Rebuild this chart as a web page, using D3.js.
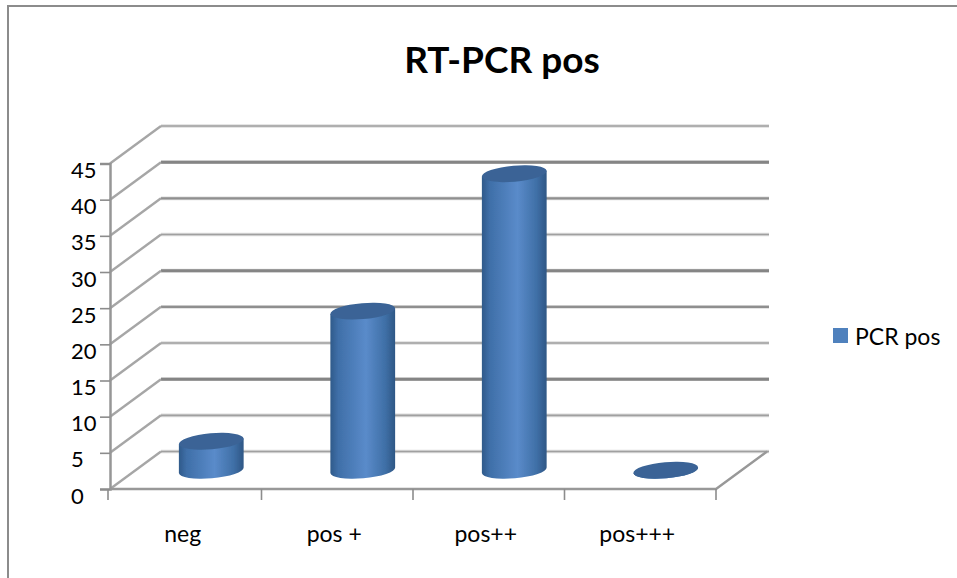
<!DOCTYPE html>
<html>
<head>
<meta charset="utf-8">
<script src="https://cdn.jsdelivr.net/npm/d3@7"></script>
<style>
  body { margin: 0; background: #fff; }
  svg { display: block; }
  text { font-family: Lato, "Open Sans", sans-serif; fill: #000; }
</style>
</head>
<body>
<svg width="957" height="578"></svg>
<script>
const categories = ["neg", "pos +", "pos++", "pos+++"];
const values = [4, 22, 41, 0];
const yTicks = [0, 5, 10, 15, 20, 25, 30, 35, 40, 45];
const seriesName = "PCR pos";
const chartTitle = "RT-PCR pos";

const svg = d3.select("svg");

// the floor/wall offset of the fake 3d box
const depthX = 51, depthY = -37.5;

const x = d3.scaleBand().domain(categories).range([110, 716]);
const y = d3.scaleLinear().domain([0, 45]).range([489, 163.5]);

const defs = svg.append("defs");
defs.append("filter").attr("id", "soft")
  .append("feGaussianBlur").attr("stdDeviation", 0.45);

// chart frame, right and bottom run off the picture
svg.append("path")
    .attr("d", "M8,578V6H957")
    .attr("fill", "none")
    .attr("stroke", "#8c8c8c")
    .attr("stroke-width", 2);

svg.append("text")
    .attr("x", 502)
    .attr("y", 73)
    .attr("text-anchor", "middle")
    .style("font-size", "37px")
    .style("font-weight", "bold")
    .text(chartTitle);

// the wall lines come out uneven in the picture, every third one is heavy
const gridLook = d => {
  const i = d / 5;
  if (i % 3 === 2) return {core: "#858585", w: 3};
  if (i % 3 === 1 && i > 1) return {core: "#8f8f8f", w: 2.2};
  return {core: "#a0a0a0", w: 1.6};
};

const grid = svg.append("g").attr("fill", "none").attr("filter", "url(#soft)");

// back wall lines
const wallPath = d => `M${110 + depthX},${y(d) + depthY}H${718 + depthX}`;
grid.selectAll(".halo")
  .data(yTicks)
  .enter().append("path")
    .attr("class", "halo")
    .attr("d", wallPath)
    .attr("stroke", "#dcdcdc")
    .attr("stroke-width", 3.6);
grid.selectAll(".core")
  .data(yTicks)
  .enter().append("path")
    .attr("class", "core")
    .attr("d", wallPath)
    .attr("stroke", d => gridLook(d).core)
    .attr("stroke-width", d => gridLook(d).w);

// side wall diagonals
grid.selectAll(".diag")
  .data(yTicks)
  .enter().append("line")
    .attr("class", "diag")
    .attr("x1", 110)
    .attr("y1", d => y(d))
    .attr("x2", 110 + depthX)
    .attr("y2", d => y(d) + depthY)
    .attr("stroke", "#a6a6a6")
    .attr("stroke-width", 2.4);

// floor front edge and right edge
grid.append("path")
    .attr("d", `M110,${y(0)}H716L${716 + depthX},${y(0) + depthY}`)
    .attr("stroke", "#989898")
    .attr("stroke-width", 2.4);

// axes
const yAxis = svg.append("g")
    .attr("transform", "translate(110,0)")
    .call(d3.axisLeft(y).tickValues(yTicks).tickSize(10).tickPadding(5));
yAxis.select(".domain").attr("stroke", "#969696").attr("stroke-width", 2.5);
yAxis.selectAll(".tick line").attr("stroke", "#8c8c8c").attr("stroke-width", 1.6);
// labels are flush left in the reference, not against the axis
yAxis.selectAll("text")
    .attr("text-anchor", "start")
    .attr("x", -39)
    .attr("y", -8)
    .attr("dy", "1.0em")
    .style("font-size", "22px")
    .attr("fill", "#000");

const xAxis = svg.append("g")
    .attr("transform", "translate(0,489)")
    .call(d3.axisBottom(x).tickSize(0).tickPadding(37));
xAxis.select(".domain").remove();
xAxis.selectAll("text")
    .attr("dx", -3)
    .style("font-size", "23px")
    .attr("fill", "#000");

// tick marks sit on the category boundaries
svg.append("g").selectAll("line")
  .data(d3.range(categories.length + 1))
  .enter().append("line")
    .attr("x1", i => 108 + i * x.step() + (i ? 2 : 0))
    .attr("x2", i => 108 + i * x.step() + (i ? 2 : 0))
    .attr("y1", 489)
    .attr("y2", 500)
    .attr("stroke", "#8c8c8c")
    .attr("stroke-width", 1.6);

// cylinders
const grad = defs.append("linearGradient").attr("id", "cyl");
[[0, "#2f5a8a"], [0.12, "#3f6fa8"], [0.55, "#5a8bca"], [0.85, "#3f6fa6"], [1, "#2e5785"]].forEach(s => {
  grad.append("stop").attr("offset", s[0]).attr("stop-color", s[1]);
});

const rx = 32.5, ry = 8, tilt = -5;
const tx = rx * Math.cos(tilt * Math.PI / 180), ty = rx * Math.sin(tilt * Math.PI / 180);

const bars = svg.append("g").attr("filter", "url(#soft)").selectAll("g")
  .data(categories.map((c, i) => ({cat: c, val: values[i]})))
  .enter().append("g")
    .attr("transform", d => `translate(${x(d.cat) + x.bandwidth() / 2 + depthX / 2},${depthY / 2})`);

bars.append("path")
    .attr("d", d => `M${-tx},${y(d.val) - ty}`
      + `L${-tx},${y(0) - ty}`
      + `A${rx},${ry} ${tilt} 0 0 ${tx},${y(0) + ty}`
      + `L${tx},${y(d.val) + ty}Z`)
    .attr("fill", "url(#cyl)");

bars.append("ellipse")
    .attr("rx", rx)
    .attr("ry", ry)
    .attr("transform", d => `translate(0,${y(d.val)}) rotate(${tilt})`)
    .attr("fill", "#3a6496");

// legend
svg.append("rect")
    .attr("x", 833)
    .attr("y", 328)
    .attr("width", 15)
    .attr("height", 15)
    .attr("fill", "#4f81bd");
svg.append("text")
    .attr("x", 855)
    .attr("y", 345)
    .style("font-size", "23px")
    .text(seriesName);
</script>
</body>
</html>
